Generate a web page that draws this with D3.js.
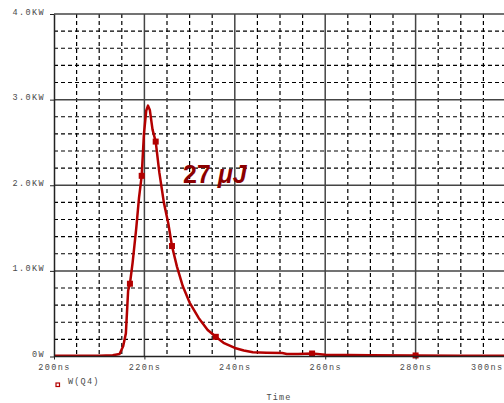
<!DOCTYPE html>
<html>
<head>
<meta charset="utf-8">
<script src="https://cdn.jsdelivr.net/npm/d3@7"></script>
<style>
  body { margin: 0; background: #fff; }
  .tick text { font-family: "Liberation Mono", monospace; font-size: 8.5px; fill: #4a4a4a; letter-spacing: 1.4px; }
</style>
</head>
<body>
<div id="chart"></div>
<script>
width = 504;
height = 403;

// time in ns, power in kW
var timeNs = [200, 205, 210, 213, 214.5, 215.3, 215.9, 216.4, 216.8, 217.4, 218.2, 218.8, 219.4,
              219.9, 220.4, 220.8, 221.2, 221.8, 222.5, 223.3, 224.3, 225.3, 226.1, 227.2, 228.5,
              230, 232, 234, 235.8, 237.5, 240, 242, 244, 247, 250.5, 251.5, 254, 257.1, 260,
              270, 280, 290, 302];
var powerKW = [0.01, 0.01, 0.01, 0.015, 0.03, 0.12, 0.27, 0.77, 0.85, 1.1, 1.5, 1.85, 2.11,
               2.6, 2.87, 2.93, 2.88, 2.65, 2.51, 2.15, 1.8, 1.55, 1.29, 1.05, 0.82,
               0.63, 0.45, 0.31, 0.23, 0.16, 0.1, 0.07, 0.05, 0.045, 0.04, 0.03, 0.03, 0.035, 0.02,
               0.015, 0.012, 0.01, 0.01];
var markerTimes = [216.8, 219.4, 222.5, 226.1, 235.8, 257.1, 280];

var xTicks = [200, 220, 240, 260, 280, 300];
var xTickLabels = ["200ns", "220ns", "240ns", "260ns", "280ns", "300ns"];
var yTicks = [0, 1, 2, 3, 4];
var yTickLabels = ["0W", "1.0KW", "2.0KW", "3.0KW", "4.0KW"];

var seriesName = "W(Q4)";
var xTitle = "Time";

var red = "#b30000";

var data = timeNs.map((t, i) => ({t: t, p: powerKW[i]}));

var svg = d3.select("#chart").append("svg")
    .attr("width", width)
    .attr("height", height);

var x = d3.scaleLinear().domain([200, 300]).range([54, 506]);
var y = d3.scaleLinear().domain([0, 4]).range([356.5, 14]);

// minor dashed grid
svg.append("g").selectAll("line")
    .data(d3.range(205, 300, 5).filter(d => d % 20 != 0))
    .enter().append("line")
    .attr("x1", d => x(d)).attr("x2", d => x(d))
    .attr("y1", y(4)).attr("y2", y(0))
    .attr("stroke", "#000").attr("stroke-width", 1.2)
    .attr("stroke-dasharray", "4,3");

svg.append("g").selectAll("line")
    .data(d3.range(0.2, 4, 0.2).filter(d => Math.abs(d - Math.round(d)) > 0.01))
    .enter().append("line")
    .attr("x1", x(200)).attr("x2", width)
    .attr("y1", d => y(d)).attr("y2", d => y(d))
    .attr("stroke", "#000").attr("stroke-width", 1.2)
    .attr("stroke-dasharray", "4,3");

// major solid grid
svg.append("g").selectAll("line")
    .data(xTicks.slice(1))
    .enter().append("line")
    .attr("x1", d => x(d)).attr("x2", d => x(d))
    .attr("y1", y(4)).attr("y2", y(0))
    .attr("stroke", "#444").attr("stroke-width", 1.5);

svg.append("g").selectAll("line")
    .data(yTicks.slice(1))
    .enter().append("line")
    .attr("x1", x(200)).attr("x2", width)
    .attr("y1", d => y(d)).attr("y2", d => y(d))
    .attr("stroke", "#444").attr("stroke-width", 1.5);

// the trace
svg.append("path")
    .datum(data)
    .attr("fill", "none")
    .attr("stroke", red)
    .attr("stroke-width", 2.5)
    .attr("stroke-linejoin", "round")
    .attr("d", d3.line().x(d => x(d.t)).y(d => y(d.p)));

svg.append("g").selectAll("rect")
    .data(data.filter(d => markerTimes.indexOf(d.t) >= 0))
    .enter().append("rect")
    .attr("x", d => x(d.t) - 3).attr("y", d => y(d.p) - 3)
    .attr("width", 6).attr("height", 6)
    .attr("fill", red);

// axes
var xAxis = svg.append("g")
    .attr("transform", "translate(0," + y(0) + ")")
    .call(d3.axisBottom(x).tickValues(xTicks)
        .tickFormat((d, i) => xTickLabels[i])
        .tickSizeInner(3).tickSizeOuter(0).tickPadding(4));
xAxis.select(".domain").attr("stroke", "#222").attr("stroke-width", 1.5)
    .attr("d", "M" + x(200) + ",0H" + width);
xAxis.selectAll(".tick line").attr("stroke", "#222");
xAxis.selectAll(".tick text")
    .attr("text-anchor", d => d == 300 ? "end" : "middle")
    .attr("x", d => d == 300 ? width - x(300) - 1 : 0);

var yAxis = svg.append("g")
    .attr("transform", "translate(" + x(200) + ",0)")
    .call(d3.axisLeft(y).tickValues(yTicks)
        .tickFormat((d, i) => yTickLabels[i])
        .tickSizeInner(4).tickSizeOuter(0).tickPadding(5));
yAxis.select(".domain").attr("stroke", "#222").attr("stroke-width", 1.5);
yAxis.selectAll(".tick line").attr("stroke", "#222");
yAxis.selectAll(".tick text").attr("dy", "0");

// annotation
svg.append("text")
    .attr("x", 183).attr("y", 183)
    .style("font-family", "'Liberation Sans', Arial, sans-serif")
    .style("font-size", "25px")
    .style("font-weight", "bold")
    .style("font-style", "normal")
    .attr("fill", "#8b0000")
    .text("27 ")
    .append("tspan")
    .style("font-style", "italic")
    .text("\u03bcJ");

// legend
svg.append("rect")
    .attr("x", 56).attr("y", 383)
    .attr("width", 3.5).attr("height", 3.5)
    .attr("fill", "#fff").attr("stroke", red).attr("stroke-width", 1.2);

svg.append("text")
    .attr("x", 68).attr("y", 384)
    .style("font-family", "'Liberation Mono', monospace")
    .style("font-size", "8.5px")
    .style("letter-spacing", "1.2px")
    .attr("fill", "#4a4a4a")
    .text(seriesName);

svg.append("text")
    .attr("x", (x(200) + width) / 2).attr("y", 400)
    .attr("text-anchor", "middle")
    .style("font-family", "'Liberation Mono', monospace")
    .style("font-size", "8.5px")
    .style("letter-spacing", "1.2px")
    .attr("fill", "#4a4a4a")
    .text(xTitle);
</script>
</body>
</html>
